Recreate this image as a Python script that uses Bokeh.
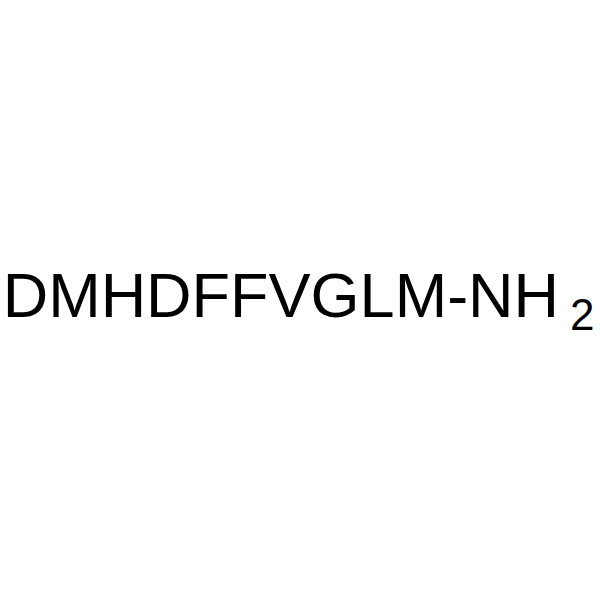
from bokeh.plotting import figure
from bokeh.models import Range1d
from bokeh.core.properties import value
from bokeh.embed import file_html
from bokeh.resources import INLINE

# Text content of the chart
main_label = ["DMHDFFVGLM-NH"]
sub_label = ["2"]

W, H = 600, 600
p = figure(width=W, height=H, output_backend="svg", toolbar_location=None,
           title=None, x_axis_location=None, y_axis_location=None,
           x_range=Range1d(0, W), y_range=Range1d(H, 0),
           min_border=0, min_border_left=0, min_border_right=0,
           min_border_top=0, min_border_bottom=0)
p.grid.visible = False
p.outline_line_color = None
p.background_fill_color = "white"
p.border_fill_color = "white"

p.text(x=[2.15], y=[294.9], text=main_label, text_font=value("Liberation Sans"),
       text_font_size="63px", text_color="black",
       text_align="left", text_baseline="alphabetic")
p.text(x=[569.5], y=[314.05], text=sub_label, text_font=value("Liberation Sans"),
       text_font_size="44px", text_color="black",
       text_align="left", text_baseline="alphabetic")

open("out.html", "w").write(file_html(p, INLINE))
